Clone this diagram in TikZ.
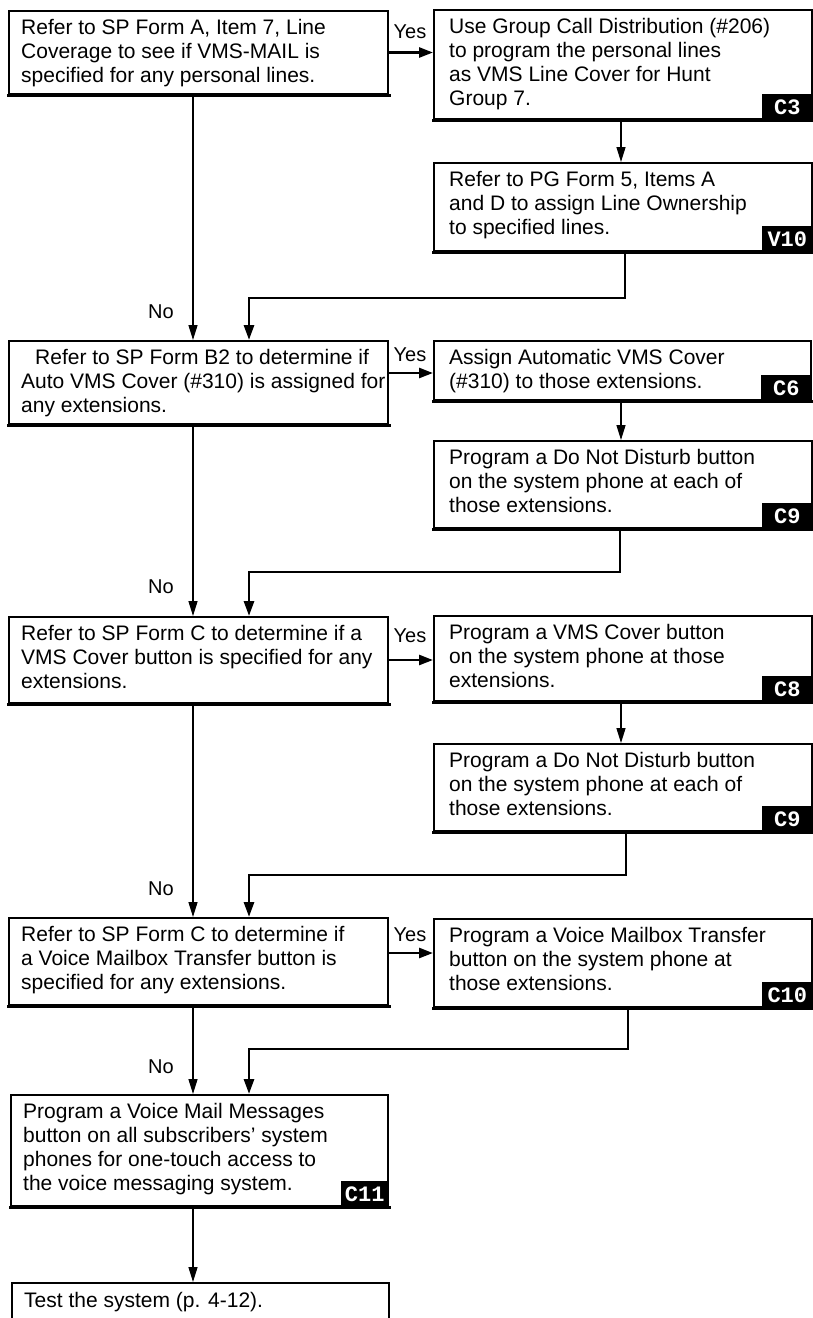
\documentclass[tikz,border=0pt]{standalone}
\usepackage{fontspec}
\setmainfont{Liberation Sans}
\newfontfamily\tagmono{Liberation Mono}
\usetikzlibrary{arrows.meta,calc}

\tikzset{
  boxshape/.style={draw, line width=2pt, rectangle, inner sep=0pt, anchor=north west},
  steptext/.style={inner sep=0pt, anchor=base west, font=\fontsize{21}{24}\selectfont},
  tagbox/.style={fill=black, text=white, inner sep=0pt, minimum width=51pt,
    minimum height=26pt, anchor=south east, font=\tagmono\bfseries\fontsize{22}{22}\selectfont},
  lbl/.style={inner sep=0pt, font=\fontsize{20}{20}\selectfont},
  noarrow/.style={line width=1.4pt, -{Triangle[length=15pt,width=9pt]}},
  backarrow/.style={line width=2.8pt, -{Triangle[length=15pt,width=10pt]}},
  yesarrow/.style={line width=2.6pt, -{Triangle[length=14pt,width=10pt]}},
  bottomedge/.style={line width=3pt, line cap=rect},
}

% #1 name, #2 left, #3 top, #4 width, #5 height, #6 text inset, #7 text
\newcommand\flowstep[7]{%
  \node[boxshape, minimum width=#4pt, minimum height=#5pt] (#1) at (#2,#3) {};
  \node[steptext] (#1-text) at ($(#1.north west)+(#6,24)$)
    {\parbox[t]{365pt}{\raggedright #7}};
  \draw[bottomedge] (#1.south west) -- (#1.south east);}

\begin{document}
\begin{tikzpicture}[x=1pt,y=-1pt]
\useasboundingbox (0,0) rectangle (813,1318);

% lanes for the vertical connectors on the left column
\coordinate (laneA) at (193,0);
\coordinate (laneB) at (249,0);

% left column: decisions
\flowstep{q1}{8}{10}{379}{83}{13}{Refer to SP Form A, Item 7, Line\\Coverage to see if VMS-MAIL is\\specified for any personal lines.}
\flowstep{q2}{8}{340}{379}{83}{13}{\hspace*{14pt}Refer to SP Form B2 to determine if\\Auto VMS Cover (\#310) is assigned for\\any extensions.}
\flowstep{q3}{8}{616}{379}{86}{13}{Refer to SP Form C to determine if a\\VMS Cover button is specified for any\\extensions.}
\flowstep{q4}{8}{917}{379}{87}{13}{Refer to SP Form C to determine if\\a Voice Mailbox Transfer button is\\specified for any extensions.}
\flowstep{c11}{10}{1094}{377}{111}{13}{Program a Voice Mail Messages\\button on all subscribers’ system\\phones for one-touch access to\\the voice messaging system.}

% final step, running off the bottom of the page
\node[boxshape, minimum width=377pt, minimum height=70pt] (test) at (11,1282) {};
\node[steptext] (test-text) at ($(test.north west)+(13,25)$) {Test the system (p. 4-12).};

% right column: actions
\flowstep{c3}{433}{9}{378}{109}{16}{Use Group Call Distribution (\#206)\\to program the personal lines\\as VMS Line Cover for Hunt\\Group 7.}
\flowstep{v10}{433}{162}{378}{88}{16}{Refer to PG Form 5, Items A\\and D to assign Line Ownership\\to specified lines.}
\flowstep{c6}{433}{340}{377}{59}{16}{Assign Automatic VMS Cover\\(\#310) to those extensions.}
\flowstep{c9a}{433}{440}{378}{87}{16}{Program a Do Not Disturb button\\on the system phone at each of\\those extensions.}
\flowstep{c8}{433}{615}{378}{85}{16}{Program a VMS Cover button\\on the system phone at those\\extensions.}
\flowstep{c9b}{433}{743}{378}{87}{16}{Program a Do Not Disturb button\\on the system phone at each of\\those extensions.}
\flowstep{c10}{433}{918}{378}{88}{16}{Program a Voice Mailbox Transfer\\button on the system phone at\\those extensions.}

% reference tags
\node[tagbox] (c3-tag) at (c3.south east) {C3};
\node[tagbox] (v10-tag) at (v10.south east) {V10};
\node[tagbox] (c6-tag) at (c6.south east) {C6};
\node[tagbox] (c9a-tag) at (c9a.south east) {C9};
\node[tagbox] (c8-tag) at (c8.south east) {C8};
\node[tagbox] (c9b-tag) at (c9b.south east) {C9};
\node[tagbox] (c10-tag) at (c10.south east) {C10};
\node[tagbox, minimum width=48pt] (c11-tag) at (c11.south east) {C11};

% Yes branches
\node[lbl] (yes1) at (410,32) {Yes};
\node[lbl] (yes2) at (410,355) {Yes};
\node[lbl] (yes3) at (410,636) {Yes};
\node[lbl] (yes4) at (410,935) {Yes};
\coordinate (q2yes) at ($(q2.north east)+(0,33)$);
\coordinate (q4yes) at ($(q4.north east)+(0,36)$);
\draw[yesarrow] (q1.east) -- (q1.east -| c3.west);
\draw[yesarrow] (q2yes) -- (q2yes -| c6.west);
\draw[yesarrow] (q3.east) -- (q3.east -| c8.west);
\draw[yesarrow] (q4yes) -- (q4yes -| c10.west);

% action chains
\draw[noarrow] ($(c3.south west)+(188,0)$) -- ($(v10.north west)+(188,0)$);
\draw[noarrow] ($(c6.south west)+(188,0)$) -- ($(c9a.north west)+(188,0)$);
\draw[noarrow] ($(c8.south west)+(188,0)$) -- ($(c9b.north west)+(188,0)$);

% No branches
\node[lbl] (no1) at (161,312) {No};
\node[lbl] (no2) at (161,587) {No};
\node[lbl] (no3) at (161,889) {No};
\node[lbl] (no4) at (161,1067) {No};
\draw[noarrow] (q1.south -| laneA) -- (q2.north -| laneA);
\draw[noarrow] (q2.south -| laneA) -- (q3.north -| laneA);
\draw[noarrow] (q3.south -| laneA) -- (q4.north -| laneA);
\draw[noarrow] (q4.south -| laneA) -- (c11.north -| laneA);
\draw[noarrow] (c11.south -| laneA) -- (test.north -| laneA);

% returns from the action chains
\draw[backarrow] ($(v10.south west)+(192,0)$) -- ++(0,46) -| (q2.north -| laneB);
\draw[backarrow] ($(c9a.south west)+(187,0)$) -- ++(0,43) -| (q3.north -| laneB);
\draw[backarrow] ($(c9b.south west)+(193,0)$) -- ++(0,43) -| (q4.north -| laneB);
\draw[backarrow] ($(c10.south west)+(195,0)$) -- ++(0,41) -| (c11.north -| laneB);
\end{tikzpicture}
\end{document}
